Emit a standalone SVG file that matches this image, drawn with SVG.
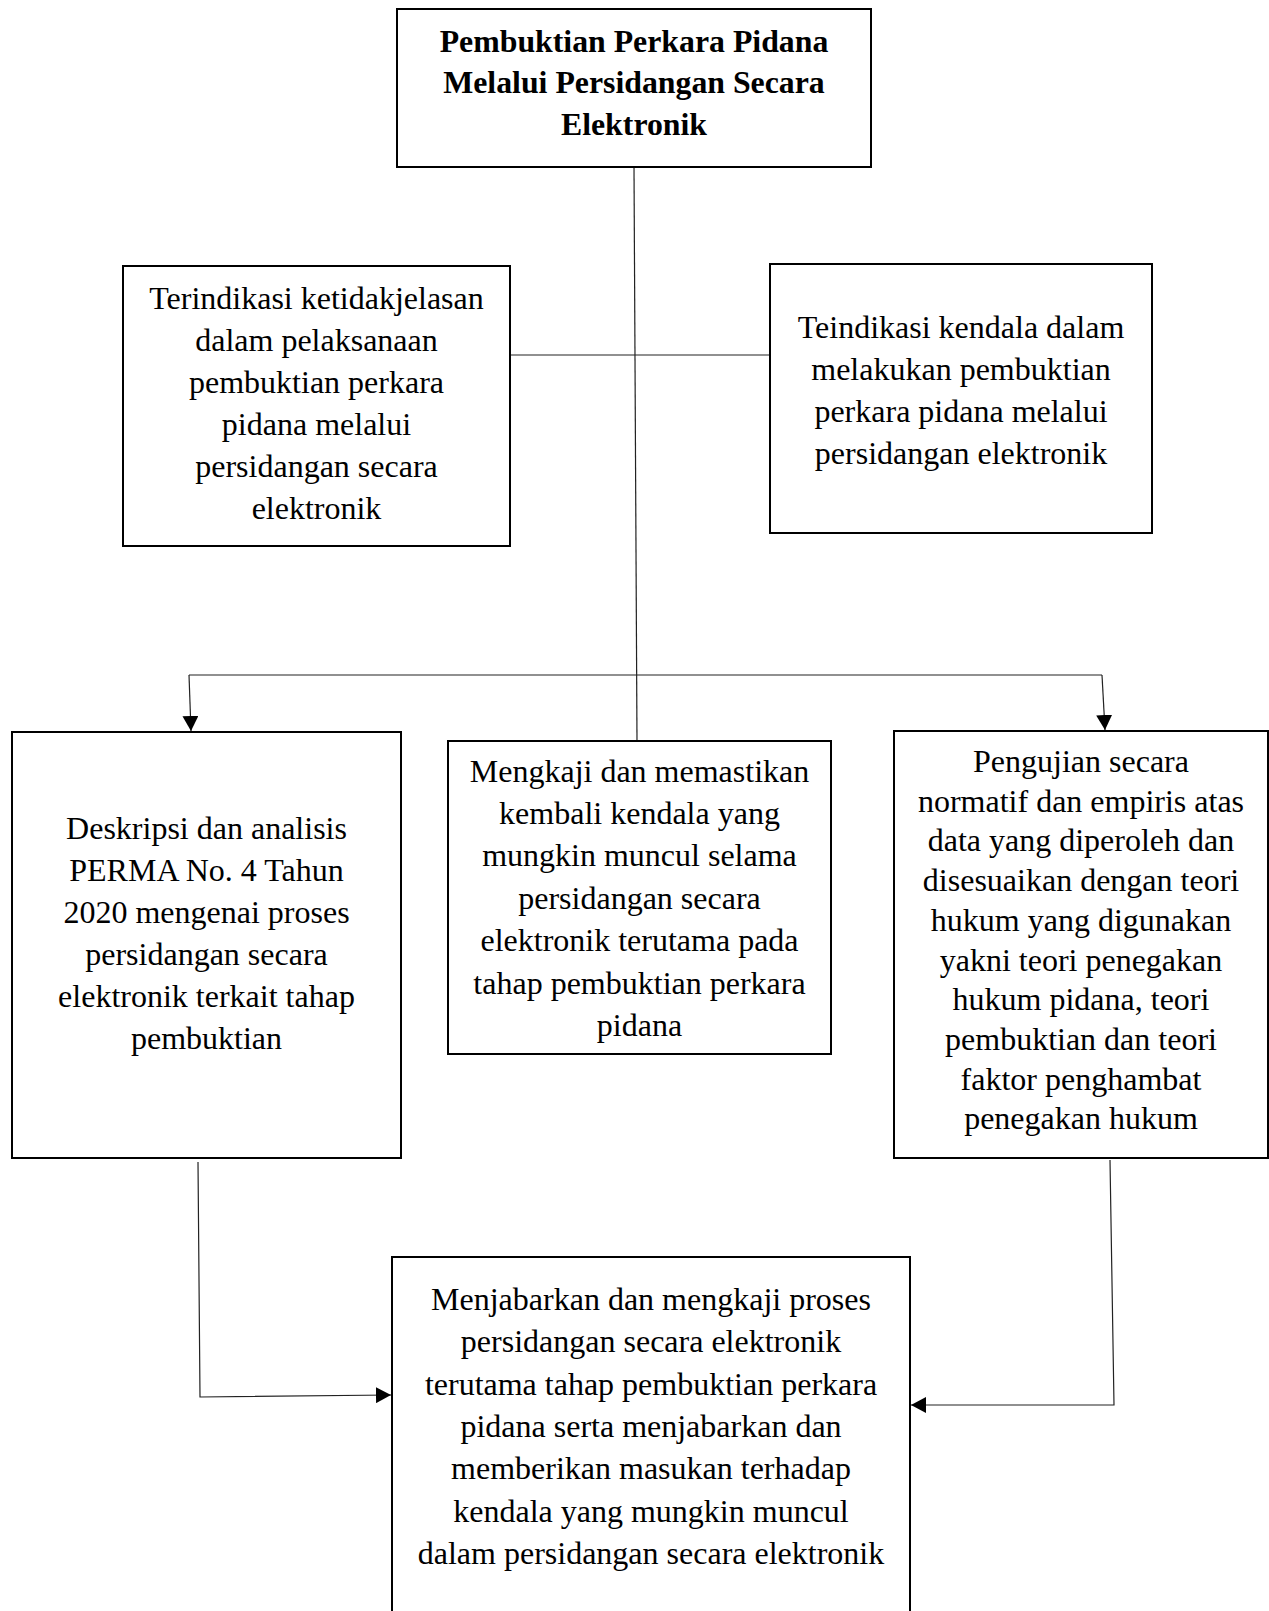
<svg xmlns="http://www.w3.org/2000/svg" width="1269" height="1611" viewBox="0 0 1269 1611">
<style>
.box{fill:#fff;stroke:#000;stroke-width:2}
.t{font-family:"Liberation Serif","Times New Roman",serif;font-size:32px;fill:#000;text-anchor:middle}
.b{font-weight:bold;font-size:31.8px}
.c{fill:none;stroke:#222;stroke-width:1.2}
</style>
<defs>
<marker id="ah" markerUnits="userSpaceOnUse" markerWidth="16" markerHeight="16" viewBox="0 0 16 16" refX="15" refY="8" orient="auto">
<path d="M0,0 L15,8 L0,16 Z" fill="#000"/>
</marker>
</defs>
<rect width="1269" height="1611" fill="#fff"/>
<g id="connectors">
<line class="c" x1="634" y1="167" x2="637" y2="742"/>
<line class="c" x1="510" y1="355" x2="770" y2="355"/>
<line class="c" x1="189" y1="675" x2="1102" y2="675"/>
<line class="c" x1="189" y1="675" x2="191" y2="731" marker-end="url(#ah)"/>
<line class="c" x1="1102" y1="675" x2="1105" y2="730" marker-end="url(#ah)"/>
<polyline class="c" points="198,1162 200,1397 391,1395" marker-end="url(#ah)"/>
<polyline class="c" points="1110,1160 1114,1405 911,1405" marker-end="url(#ah)"/>
</g>
<g id="n-top">
<rect class="box" x="397" y="9" width="474" height="158"/>
<text class="t b" x="634" y="52">Pembuktian Perkara Pidana</text>
<text class="t b" x="634" y="93">Melalui Persidangan Secara</text>
<text class="t b" x="634" y="135">Elektronik</text>
</g>
<g id="n-left">
<rect class="box" x="123" y="266" width="387" height="280"/>
<text class="t" x="316.5" y="309">Terindikasi ketidakjelasan</text>
<text class="t" x="316.5" y="351">dalam pelaksanaan</text>
<text class="t" x="316.5" y="393">pembuktian perkara</text>
<text class="t" x="316.5" y="435">pidana melalui</text>
<text class="t" x="316.5" y="477">persidangan secara</text>
<text class="t" x="316.5" y="519">elektronik</text>
</g>
<g id="n-right">
<rect class="box" x="770" y="264" width="382" height="269"/>
<text class="t" x="961" y="338">Teindikasi kendala dalam</text>
<text class="t" x="961" y="380">melakukan pembuktian</text>
<text class="t" x="961" y="422">perkara pidana melalui</text>
<text class="t" x="961" y="464">persidangan elektronik</text>
</g>
<g id="n-deskripsi">
<rect class="box" x="12" y="732" width="389" height="426"/>
<text class="t" x="206.5" y="839">Deskripsi dan analisis</text>
<text class="t" x="206.5" y="881">PERMA No. 4 Tahun</text>
<text class="t" x="206.5" y="923">2020 mengenai proses</text>
<text class="t" x="206.5" y="965">persidangan secara</text>
<text class="t" x="206.5" y="1007">elektronik terkait tahap</text>
<text class="t" x="206.5" y="1049">pembuktian</text>
</g>
<g id="n-mengkaji">
<rect class="box" x="448" y="741" width="383" height="313"/>
<text class="t" x="639.5" y="782">Mengkaji dan memastikan</text>
<text class="t" x="639.5" y="824">kembali kendala yang</text>
<text class="t" x="639.5" y="866">mungkin muncul selama</text>
<text class="t" x="639.5" y="908.5">persidangan secara</text>
<text class="t" x="639.5" y="951">elektronik terutama pada</text>
<text class="t" x="639.5" y="993.5">tahap pembuktian perkara</text>
<text class="t" x="639.5" y="1036">pidana</text>
</g>
<g id="n-pengujian">
<rect class="box" x="894" y="731" width="374" height="427"/>
<text class="t" x="1081" y="772">Pengujian secara</text>
<text class="t" x="1081" y="811.7">normatif dan empiris atas</text>
<text class="t" x="1081" y="851.4">data yang diperoleh dan</text>
<text class="t" x="1081" y="891.1">disesuaikan dengan teori</text>
<text class="t" x="1081" y="930.8">hukum yang digunakan</text>
<text class="t" x="1081" y="970.5">yakni teori penegakan</text>
<text class="t" x="1081" y="1010.2">hukum pidana, teori</text>
<text class="t" x="1081" y="1049.9">pembuktian dan teori</text>
<text class="t" x="1081" y="1089.6">faktor penghambat</text>
<text class="t" x="1081" y="1129.3">penegakan hukum</text>
</g>
<g id="n-bottom">
<rect class="box" x="392" y="1257" width="518" height="370"/>
<text class="t" x="651" y="1310">Menjabarkan dan mengkaji proses</text>
<text class="t" x="651" y="1352.3">persidangan secara elektronik</text>
<text class="t" x="651" y="1394.6">terutama tahap pembuktian perkara</text>
<text class="t" x="651" y="1436.9">pidana serta menjabarkan dan</text>
<text class="t" x="651" y="1479.2">memberikan masukan terhadap</text>
<text class="t" x="651" y="1521.5">kendala yang mungkin muncul</text>
<text class="t" x="651" y="1563.8">dalam persidangan secara elektronik</text>
</g>
</svg>
